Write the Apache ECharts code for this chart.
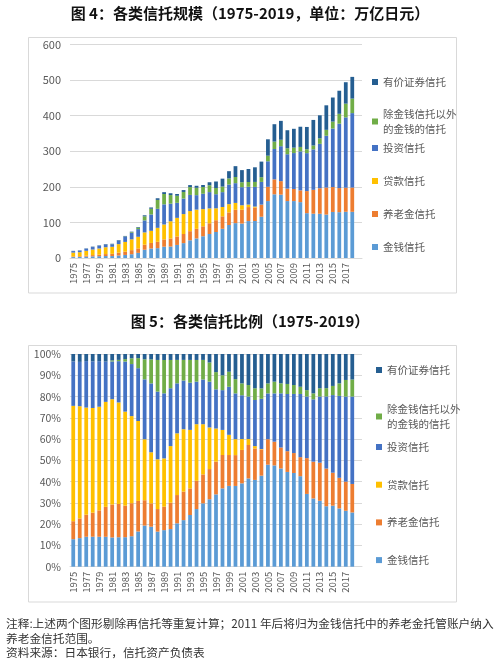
<!DOCTYPE html>
<html><head><meta charset="utf-8">
<script src="https://cdn.jsdelivr.net/npm/echarts@6/dist/echarts.min.js"></script>
<style>html,body{margin:0;padding:0;background:#fff}#c{width:500px;height:663px}</style>
</head><body><div id="c"></div>
<script>
const years = ['1975','1976','1977','1978','1979','1980','1981','1982','1983','1984','1985','1986','1987','1988','1989','1990','1991','1992','1993','1994','1995','1996','1997','1998','1999','2000','2001','2002','2003','2004','2005','2006','2007','2008','2009','2010','2011','2012','2013','2014','2015','2016','2017','2018','2019'];

// 单位：万亿日元
const moneyTrust = [2.6,2.9,3.8,4.5,5.0,5.5,5.5,7.0,8.6,10.6,14.4,23.2,26.7,27.7,31.8,32.2,36.7,41.8,49.8,55.0,61.1,67.5,73.1,82.1,92.7,98.0,96.8,103.8,104.0,115.9,160,179,178,160,160,157,126,124.5,124.3,122,129.4,128.8,129.9,129.8];
const pensionTrust = [1.7,2.0,2.8,3.6,4.4,5.5,6.2,7.9,9.2,11.5,12.5,14.3,15.6,17.8,20.4,22.6,23.9,25.6,25.6,27.0,27.9,30.2,33.1,35.0,35.4,37.4,38.8,39.3,37.7,33.5,40,42,38,35,34,33,62,67.1,71.8,76,69.9,67.7,67.7,68.2];
const loanTrust = [10.9,11.4,13.6,15.7,17.3,19.3,19.8,24.1,27.4,30.3,32.7,34.4,34.1,39.3,42.0,48.4,52.2,56.0,56.4,54.0,48.4,41.7,33.5,26.3,23.2,19.4,12.6,7.0,2.8,0.5,0,0,0,0,0,0,0,0,0,0,0,0,0,0];
const investTrust = [4.2,4.5,5.9,7.0,7.6,7.4,7.1,9.8,14.6,18.1,21.6,33.8,46.0,53.4,56.6,49.5,42.3,43.7,45.5,40.6,43.1,45.8,39.6,41.7,55.1,55.5,50.9,50.0,55.3,63.9,71.8,85.4,98.2,96.6,100.9,109.6,106.7,113.7,124.7,145.5,164.6,181,197.6,209.2];
const otherMoneyTrust = [0,0,0,0,0,0,0.2,0.3,0.7,2.0,4.1,11.3,16.0,25.0,29.0,24.2,19.8,18.5,21.9,20.7,18.9,19.2,17.4,15.6,17.3,17.3,13.8,13.5,14.0,13.3,15.7,20.7,18.1,16.9,15.2,12.5,11.0,10.9,15.6,16.7,19.4,27.7,38.5,40.7];
const securitiesTrust = [0.7,0.8,0.9,1.1,1.2,1.4,1.2,1.4,1.5,1.5,1.7,3.0,3.6,4.7,5.2,5.1,5.0,5.3,5.7,5.7,5.7,8.5,18.3,22.3,20.3,30.5,34.1,36.5,41.1,43.8,46.1,48.9,53.1,50.6,53.0,56.8,62.6,71.8,64.6,68.9,67.7,64.9,60.3,61.1];

const seriesNames = ['金钱信托','养老金信托','贷款信托','投资信托','除金钱信托以外\n的金钱的信托','有价证券信托'];
const seriesData = [moneyTrust, pensionTrust, loanTrust, investTrust, otherMoneyTrust, securitiesTrust];
const colors = ['#5B9BD5','#ED7D31','#FFC000','#4472C4','#70AD47','#255E91'];

const title1 = '图 4：各类信托规模（1975-2019，单位：万亿日元）';
const title2 = '图 5：各类信托比例（1975-2019）';
const note1 = '注释:上述两个图形剔除再信托等重复计算；2011 年后将归为金钱信托中的养老金托管账户纳入';
const note2 = '养老金信托范围。';
const source = '资料来源：日本银行，信托资产负债表';

const FONT = '"Noto Sans CJK SC", "Noto Sans", sans-serif';
const GRAY = '#595959';

const totals = moneyTrust.map((_, i) => seriesData.reduce((s, arr) => s + arr[i], 0));
const pctData = seriesData.map(arr => arr.map((v, i) => v / totals[i] * 100));

const xAxisCommon = (gridIndex) => ({
  type: 'category', gridIndex, data: years,
  axisLine: { show: true, lineStyle: { color: '#d9d9d9' } },
  axisTick: { show: false },
  axisLabel: {
    rotate: 90, fontSize: 9.5, color: GRAY, fontFamily: FONT, margin: 5,
    interval: (idx, val) => idx % 2 === 0 && val !== '2019'
  }
});

const legendCommon = {
  orient: 'vertical', itemWidth: 6, itemHeight: 6, icon: 'rect',
  textStyle: { fontSize: 10.5, color: GRAY, fontFamily: FONT, lineHeight: 15 }
};

const series = [];
seriesNames.forEach((name, k) => {
  series.push({ name, type: 'bar', stack: 'a', xAxisIndex: 0, yAxisIndex: 0,
    barWidth: '58%', itemStyle: { color: colors[k] }, data: seriesData[k] });
});
seriesNames.forEach((name, k) => {
  series.push({ name, type: 'bar', stack: 'b', xAxisIndex: 1, yAxisIndex: 1,
    barWidth: '58%', itemStyle: { color: colors[k] }, data: pctData[k] });
});

const chart = echarts.init(document.getElementById('c'), null, { renderer: 'canvas' });
chart.setOption({
  animation: false,
  backgroundColor: '#fff',
  title: [
    { text: title1, left: 'center', top: 1, textStyle: { fontSize: 15, fontWeight: 'bold', color: '#111', fontFamily: FONT } },
    { text: title2, left: 'center', top: 309, textStyle: { fontSize: 15, fontWeight: 'bold', color: '#111', fontFamily: FONT } }
  ],
  grid: [
    { left: 70, right: 138, top: 44.5, height: 213.5 },
    { left: 70, right: 138, top: 354, height: 212.7 }
  ],
  xAxis: [xAxisCommon(0), xAxisCommon(1)],
  yAxis: [
    { type: 'value', gridIndex: 0, min: 0, max: 600, interval: 100,
      axisLine: { show: false }, axisTick: { show: false },
      splitLine: { lineStyle: { color: '#d9d9d9' } },
      axisLabel: { fontSize: 11, color: GRAY, fontFamily: FONT, margin: 9 } },
    { type: 'value', gridIndex: 1, min: 0, max: 100, interval: 10,
      axisLine: { show: false }, axisTick: { show: false },
      splitLine: { lineStyle: { color: '#d9d9d9' } },
      axisLabel: { fontSize: 10.5, color: GRAY, fontFamily: FONT, margin: 9, formatter: '{value}%' } }
  ],
  legend: [
    Object.assign({}, legendCommon, { left: 367, top: 69.5, itemGap: 17, data: [seriesNames[5], seriesNames[4]] }),
    Object.assign({}, legendCommon, { left: 367, top: 135.5, itemGap: 18, data: [seriesNames[3], seriesNames[2], seriesNames[1], seriesNames[0]] }),
    Object.assign({}, legendCommon, { left: 371, top: 357.5, itemGap: 24, data: [seriesNames[5], seriesNames[4]] }),
    Object.assign({}, legendCommon, { left: 371, top: 434.5, itemGap: 22.7, data: [seriesNames[3], seriesNames[2], seriesNames[1], seriesNames[0]] })
  ],
  graphic: [
    { type: 'rect', shape: { x: 28.5, y: 37.5, width: 428, height: 255.5 }, style: { fill: 'none', stroke: '#d9d9d9', lineWidth: 1 }, silent: true },
    { type: 'rect', shape: { x: 28.5, y: 345.5, width: 428, height: 256.5 }, style: { fill: 'none', stroke: '#d9d9d9', lineWidth: 1 }, silent: true },
    { type: 'text', left: 6, top: 618, style: { text: note1, fontSize: 11.7, fill: '#333', fontFamily: FONT } },
    { type: 'text', left: 6, top: 632.5, style: { text: note2, fontSize: 11.7, fill: '#333', fontFamily: FONT } },
    { type: 'text', left: 6, top: 647, style: { text: source, fontSize: 11.7, fill: '#333', fontFamily: FONT } }
  ],
  series
});
</script>
</body></html>
